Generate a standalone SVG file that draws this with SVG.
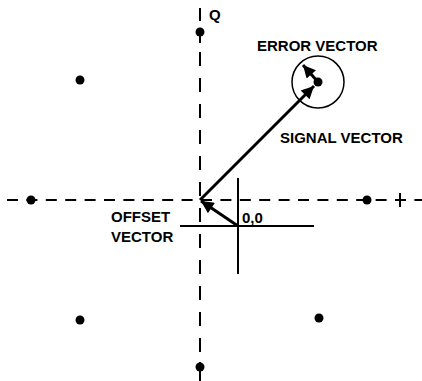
<svg xmlns="http://www.w3.org/2000/svg" width="422" height="381" viewBox="0 0 422 381">
<style>
.axis{stroke:#000;stroke-width:2;fill:none}
.ln{stroke:#000;stroke-width:2;fill:none}
.vec{stroke:#000;stroke-width:3;fill:none}
.dot{fill:#000}
.lbl{font-family:"Liberation Sans",Arial,sans-serif;font-weight:bold;font-size:15px;fill:#000}
</style>
<defs>
<marker id="ah" viewBox="0 0 10 10" refX="10" refY="5" markerWidth="5" markerHeight="4.2" markerUnits="strokeWidth" orient="auto">
<path d="M0,0 L10,5 L0,10 z" fill="#000"/>
</marker>
</defs>
<g id="axes">
<line class="axis" x1="200" y1="8" x2="200" y2="21"/>
<line class="axis" x1="200" y1="28" x2="200" y2="43"/>
<line class="axis" x1="200" y1="52" x2="200" y2="360" stroke-dasharray="14,12"/>
<line class="axis" x1="200" y1="362" x2="200" y2="381"/>
<line class="axis" x1="7" y1="200" x2="422" y2="200" stroke-dasharray="11,8.4"/>
<line class="axis" x1="400" y1="193" x2="400" y2="207"/>
</g>
<g id="crosshair">
<line class="ln" x1="238" y1="178" x2="238" y2="274"/>
<line class="ln" x1="180" y1="226" x2="314" y2="226"/>
</g>
<g id="points">
<circle class="dot" cx="200" cy="32" r="4.5"/>
<circle class="dot" cx="80" cy="80" r="4.5"/>
<circle class="dot" cx="31" cy="200" r="4.5"/>
<circle class="dot" cx="367" cy="200" r="4.5"/>
<circle class="dot" cx="80" cy="320" r="4.5"/>
<circle class="dot" cx="319" cy="318" r="4.5"/>
<circle class="dot" cx="200" cy="367" r="4.5"/>
<circle class="dot" cx="318" cy="82" r="4.5"/>
<circle cx="318" cy="82" r="26" fill="none" stroke="#000" stroke-width="1.5"/>
</g>
<g id="connectors">
<line class="vec" x1="200" y1="200" x2="314" y2="86" marker-end="url(#ah)"/>
<line class="vec" x1="318" y1="82" x2="303" y2="65" marker-end="url(#ah)"/>
<line class="vec" x1="238" y1="226" x2="201" y2="201" marker-end="url(#ah)"/>
</g>
<g id="labels">
<text class="lbl" x="209" y="20">Q</text>
<text class="lbl" x="257" y="51">ERROR VECTOR</text>
<text class="lbl" x="280" y="143">SIGNAL VECTOR</text>
<text class="lbl" x="111" y="222">OFFSET</text>
<text class="lbl" x="111" y="242">VECTOR</text>
<text class="lbl" x="242" y="223">0,0</text>
</g>
</svg>
